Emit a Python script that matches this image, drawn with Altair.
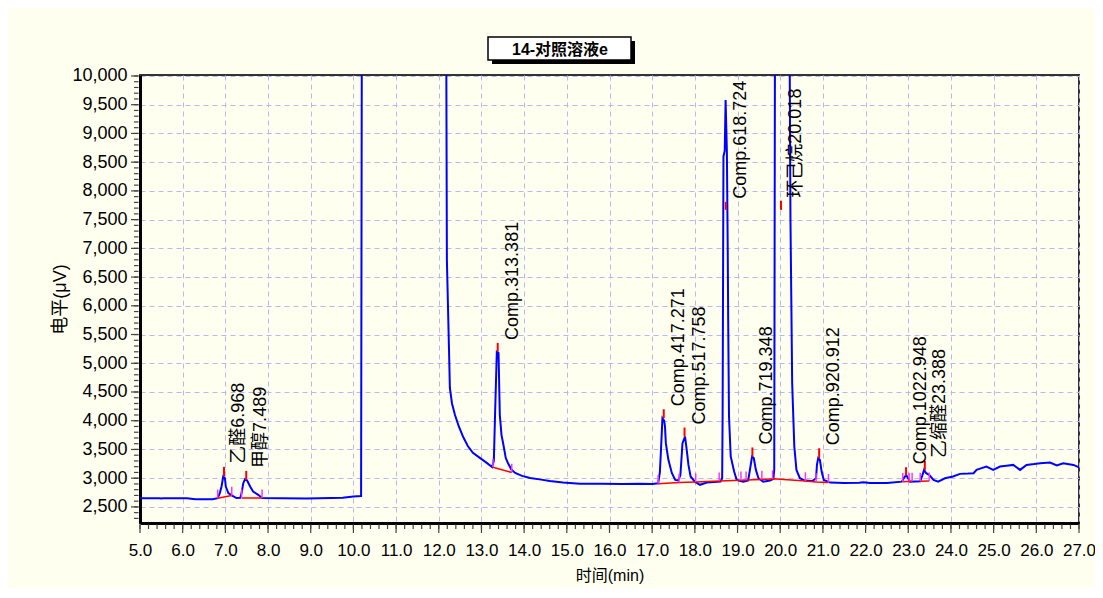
import altair as alt
import pandas as pd

# ---------------- data ----------------
trace_t = [5.00, 5.45, 5.50, 5.55, 6.10, 6.30, 6.70, 6.82, 6.87, 6.91, 6.95, 6.99, 7.01, 7.07,
           7.15, 7.26, 7.35, 7.38, 7.42, 7.46, 7.51, 7.58, 7.65, 7.77, 7.86, 8.30, 8.90, 9.20,
           9.75, 10.00, 10.18, 10.20, 12.17, 12.19, 12.24, 12.26, 12.31, 12.38, 12.47, 12.57,
           12.68, 12.80, 12.97, 13.10, 13.25, 13.29, 13.32, 13.36, 13.40, 13.43, 13.47, 13.51,
           13.57, 13.62, 13.70, 13.79, 13.95, 14.14, 14.40, 14.60, 14.91, 15.31, 15.80, 16.30,
           16.70, 17.00, 17.14, 17.18, 17.21, 17.24, 17.28, 17.30, 17.32, 17.38, 17.46, 17.54,
           17.61, 17.66, 17.68, 17.71, 17.77, 17.81, 17.85, 17.90, 18.00, 18.12, 18.28, 18.45,
           18.60, 18.64, 18.65, 18.67, 18.70, 18.72, 18.75, 18.77, 18.78, 18.80, 18.84, 18.92,
           18.98, 19.13, 19.25, 19.29, 19.34, 19.38, 19.43, 19.49, 19.60, 19.76, 19.84, 19.86,
           19.88, 20.21, 20.24, 20.28, 20.33, 20.38, 20.46, 20.58, 20.75, 20.84, 20.86, 20.89,
           20.93, 20.97, 21.02, 21.17, 21.50, 21.85, 21.95, 22.10, 22.50, 22.85, 22.92, 22.96,
           23.04, 23.28, 23.33, 23.37, 23.42, 23.49, 23.59, 23.70, 23.86, 24.05, 24.21, 24.40,
           24.53, 24.60, 24.70, 24.83, 24.99, 25.15, 25.30, 25.46, 25.62, 25.77, 25.95, 26.09,
           26.32, 26.48, 26.63, 26.87, 27.00]
trace_v = [2652, 2652, 2645, 2652, 2652, 2635, 2635, 2652, 2740, 2855, 3028, 3000, 2855, 2740,
           2700, 2655, 2660, 2740, 2913, 2983, 2960, 2855, 2768, 2710, 2655, 2652, 2648, 2652,
           2660, 2680, 2690, 12000, 12000, 6800, 5230, 4570, 4300, 4100, 3900, 3720,
           3560, 3440, 3350, 3280, 3195, 3300, 4140, 5200, 5180, 4100, 3750, 3600,
           3350, 3265, 3150, 3090, 3040, 3005, 2975, 2950, 2925, 2905, 2905, 2900,
           2905, 2900, 2910, 3100, 3550, 4044, 4000, 3900, 3610, 3320, 3090, 2970,
           2960, 3050, 3260, 3610, 3724, 3490, 3230, 3030, 2940, 2885, 2925, 2935,
           2940, 3000, 4070, 8600, 8700, 9580, 8700, 7000, 5810, 4070, 3380, 3115,
           2970, 2940, 2960, 3144, 3376, 3350, 3144, 3000, 2940, 2958, 2990, 3150,
           12000, 12000, 7500, 4650, 3550, 3144, 3000, 2958, 2950, 3000, 3231, 3350,
           3318, 3115, 2970, 2924, 2915, 2920, 2930, 2915, 2915, 2940, 3028, 3045,
           2940, 2945, 3050, 3144, 3086, 3057, 2970, 2940, 2998, 3030, 3075, 3080,
           3086, 3144, 3170, 3202, 3144, 3202, 3215, 3231, 3144, 3231, 3245, 3260,
           3271, 3220, 3260, 3231, 3190]

peak_names = ["乙醛6.968", "甲醇7.489", "Comp.313.381", "Comp.417.271", "Comp.517.758",
              "Comp.618.724", "Comp.719.348", "环己烷20.018", "Comp.920.912",
              "Comp.1022.948", "乙缩醛23.388"]
peak_times = [6.968, 7.489, 13.381, 17.271, 17.758, 18.724, 19.348, 20.018, 20.912, 22.948, 23.388]
mark_lo = [3030, 2970, 5200, 4044, 3724, 7670, 3376, 7670, 3350, 3045, 3144]
mark_hi = [3197, 3127, 5354, 4200, 3881, 7810, 3535, 7830, 3521, 3191, 3300]

base_seg = ["a", "a", "b", "b", "c", "c",
            "d", "d", "d", "d", "d", "d", "d", "d", "d", "d", "d",
            "e", "e", "f", "f"]
base_t = [6.82, 7.15, 7.38, 7.86, 13.27, 13.71,
          17.14, 17.63, 18.02, 18.57, 19.08, 19.20, 19.57, 19.84, 20.59, 20.84, 21.13,
          22.87, 23.09, 23.28, 23.49]
base_v = [2652, 2700, 2655, 2655, 3190, 3100,
          2905, 2925, 2935, 2950, 2965, 2968, 2978, 2988, 2952, 2935, 2925,
          2940, 2945, 2945, 2950]

tick_t = [6.82, 7.15, 7.38, 7.86, 13.27, 13.71, 17.14, 17.63, 18.02, 18.57, 19.08, 19.20,
          19.57, 19.82, 20.59, 20.84, 21.13, 22.87, 23.02, 23.09, 23.28, 23.49]
tick_v = [2652, 2700, 2655, 2655, 3190, 3100, 2905, 2925, 2935, 2950, 2965, 2968,
          2978, 2988, 2952, 2935, 2925, 2940, 2945, 2945, 2945, 2950]

x_major_ticks = list(range(5, 28))
y_major_ticks = list(range(2500, 10001, 500))
x_minor_ticks = [round(5 + 0.2 * i, 1) for i in range(111)]
y_minor_ticks = list(range(2300, 10001, 100))

title_text = "14-对照溶液e"
x_title = "时间(min)"
y_title = "电平(μV)"

# ---------------- chart ----------------
FONT = "Liberation Sans, Arial, Noto Sans CJK SC, sans-serif"
CREAM = "#FFFFF0"
TICK = "#444444"

trace = pd.DataFrame({"t": trace_t, "v": trace_v})
peaks = pd.DataFrame({"name": peak_names, "t": peak_times, "lo": mark_lo, "hi": mark_hi})
base = pd.DataFrame({"seg": base_seg, "t": base_t, "v": base_v})
ticks = pd.DataFrame({"t": tick_t, "v": tick_v})
one = pd.DataFrame({"k": [0]})
xmaj = pd.DataFrame({"t": x_major_ticks})
xmin = pd.DataFrame({"t": x_minor_ticks})
ymaj = pd.DataFrame({"v": y_major_ticks})
ymin = pd.DataFrame({"v": y_minor_ticks})

xs = alt.Scale(domain=[5, 27], nice=False, zero=False)
ys = alt.Scale(domain=[2220, 10017], nice=False, zero=False)

x_major = alt.Axis(values=x_major_ticks, format=".1f", orient="bottom",
                   labelFont=FONT, labelFontSize=17, labelColor="black",
                   labelPadding=19, labelFlush=False, labelOverlap=False,
                   ticks=False, tickSize=9,
                   domain=True, domainColor="black", domainWidth=3,
                   grid=True, gridColor="#B8B8F0", gridDash=[5, 4], gridWidth=1,
                   title=x_title, titleFont=FONT, titleFontSize=16,
                   titleFontWeight="normal", titleColor="black", titlePadding=9)
y_major = alt.Axis(values=y_major_ticks, format=",d", orient="left",
                   labelFont=FONT, labelFontSize=18, labelColor="black",
                   labelPadding=13, labelOverlap=False,
                   ticks=False, tickSize=8,
                   domain=True, domainColor="black", domainWidth=3,
                   grid=True, gridColor="#B8B8F0", gridDash=[5, 4], gridWidth=1,
                   title=y_title, titleFont=FONT, titleFontSize=18,
                   titleFontWeight="normal", titleColor="black", titlePadding=2)

line = alt.Chart(trace).mark_line(color="#0000FF", strokeWidth=2, clip=True).encode(
    x=alt.X("t:Q", scale=xs, axis=x_major),
    y=alt.Y("v:Q", scale=ys, axis=y_major))

# axis tick marks (positions from the scales)
xt_major = alt.Chart(xmaj).mark_rule(color=TICK, strokeWidth=1.2).encode(
    x=alt.X("t:Q", scale=xs, axis=None), y=alt.value(449.5), y2=alt.value(458))
xt_minor = alt.Chart(xmin).mark_rule(color=TICK, strokeWidth=1.2).encode(
    x=alt.X("t:Q", scale=xs, axis=None), y=alt.value(449.5), y2=alt.value(454))
yt_major = alt.Chart(ymaj).mark_rule(color=TICK, strokeWidth=1.2).encode(
    y=alt.Y("v:Q", scale=ys, axis=None), x=alt.value(-1.5), x2=alt.value(-9))
yt_minor = alt.Chart(ymin).mark_rule(color=TICK, strokeWidth=1.2).encode(
    y=alt.Y("v:Q", scale=ys, axis=None), x=alt.value(-1.5), x2=alt.value(-6))

red_base = alt.Chart(base).mark_line(color="#FF0000", strokeWidth=1.5).encode(
    x=alt.X("t:Q", scale=xs, axis=None),
    y=alt.Y("v:Q", scale=ys, axis=None),
    detail="seg:N")

red_tip = alt.Chart(peaks).mark_rule(color="#FF0000", strokeWidth=2).encode(
    x=alt.X("t:Q", scale=xs, axis=None),
    y=alt.Y("lo:Q", scale=ys, axis=None),
    y2="hi:Q")

mag = alt.Chart(ticks).transform_calculate(v2="datum.v + 150").mark_rule(
    color="#FF33FF", strokeWidth=1.5).encode(
    x=alt.X("t:Q", scale=xs, axis=None),
    y=alt.Y("v:Q", scale=ys, axis=None),
    y2="v2:Q")

labels = alt.Chart(peaks).mark_text(angle=270, align="left", baseline="middle",
                                    dx=3, dy=15, font=FONT, fontSize=18,
                                    color="black").encode(
    x=alt.X("t:Q", scale=xs, axis=None),
    y=alt.Y("hi:Q", scale=ys, axis=None),
    text="name:N")

shadow = alt.Chart(one).mark_rect(color="black").encode(
    x=alt.value(352), x2=alt.value(495), y=alt.value(-34), y2=alt.value(-11))
box = alt.Chart(one).mark_rect(fill="white", stroke="black", strokeWidth=1.5).encode(
    x=alt.value(348), x2=alt.value(491), y=alt.value(-38), y2=alt.value(-15))
title = alt.Chart(one).mark_text(text=title_text, font=FONT, fontSize=16, fontWeight="bold",
                                 color="black", align="center", baseline="middle").encode(
    x=alt.value(420), y=alt.value(-25))

chart = alt.layer(line, red_base, red_tip, mag, labels,
                  xt_minor, xt_major, yt_minor, yt_major,
                  shadow, box, title).resolve_axis(
    x="independent", y="independent"
).properties(
    width=939, height=448,
    autosize=alt.AutoSizeParams(type="none"),
    padding={"left": 132, "top": 67, "right": 16, "bottom": 65},
    background=CREAM,
).configure_view(stroke="#333333", strokeWidth=2, fill=CREAM)

chart.save("out.html", embed_options={"renderer": "svg", "actions": False})
